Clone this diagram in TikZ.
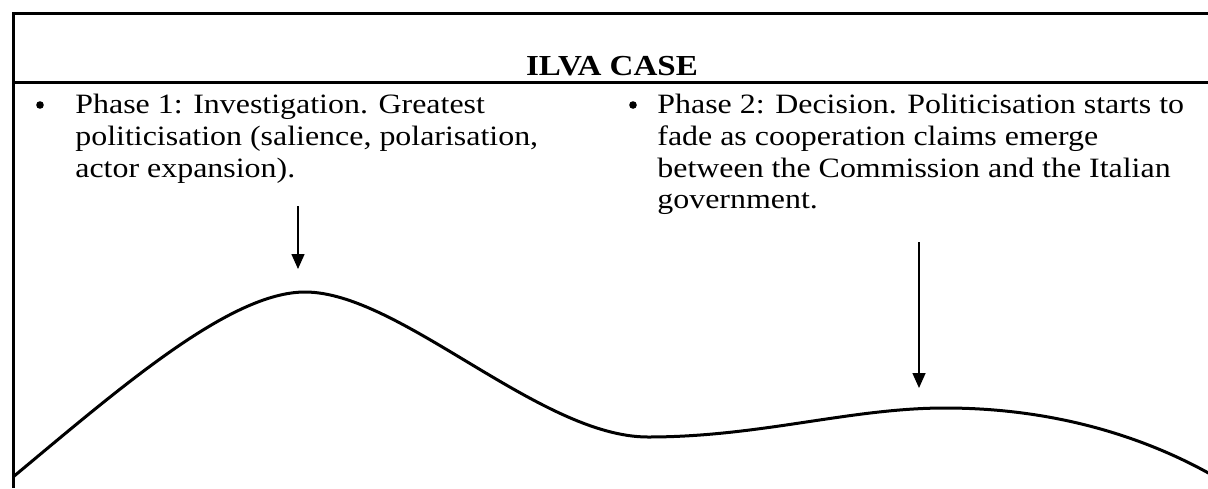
\documentclass[tikz,border=0pt]{standalone}
\usepackage{fontspec}
\setmainfont[FakeStretch=1.14]{Liberation Serif}
\usetikzlibrary{arrows.meta, positioning}

\begin{document}
\begin{tikzpicture}[x=0.5pt, y=-0.5pt,
    phasetext/.style={anchor=north west, inner sep=0pt, align=left,
      font=\fontsize{14}{15.8}\selectfont},
    bulletmark/.style={circle, fill, inner sep=0pt, minimum size=3.8pt},
    pointer/.style={-{Triangle[width=6.5pt, length=7.5pt]}, line width=0.75pt}]
  \useasboundingbox (0,0) rectangle (1208,488);
  % Table frame and header
  \draw[line width=1.5pt] (1208,13) -- (13,13) -- (13,488);
  \draw[line width=1.5pt] (13,82) -- (1208,82);
  \node[font=\bfseries\fontsize{14.5}{17}\selectfont, anchor=base,
        inner sep=0pt] (title) at (612,75) {ILVA CASE};
  % Phase descriptions
  \node[bulletmark] (dot1) at (40,105) {};
  \node[phasetext] (phase1) at (75,94)
    {Phase 1: Investigation. Greatest\\
     politicisation (salience, polarisation,\\
     actor expansion).};
  \node[bulletmark] (dot2) at (633,105) {};
  \node[phasetext] (phase2) at (657,94)
    {Phase 2: Decision. Politicisation starts to\\
     fade as cooperation claims emerge\\
     between the Commission and the Italian\\
     government.};
  % Pointers to the two peaks
  \coordinate (p1top) at (298,206);
  \coordinate (p1tip) at (298,269);
  \coordinate (p2top) at (919,242);
  \coordinate (p2tip) at (919,388);
  \draw[pointer] (p1top) -- (p1tip);
  \draw[pointer] (p2top) -- (p2tip);
  % Politicisation curve
  \draw[line width=1.5pt] (13,477)
    .. controls (120,388) and (230,292) .. (305,292)
    .. controls (400,292) and (540,437) .. (648,437)
    .. controls (760,437) and (850,408) .. (945,408)
    .. controls (1060,408) and (1150,440) .. (1212,475);
\end{tikzpicture}
\end{document}
